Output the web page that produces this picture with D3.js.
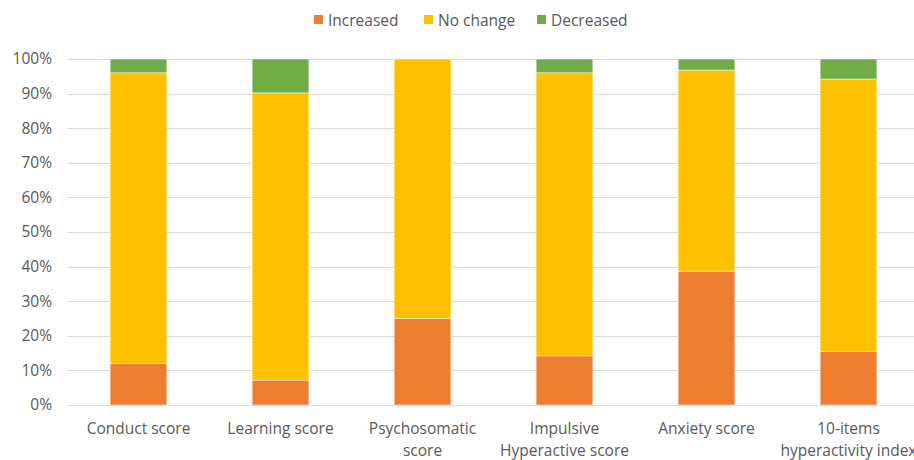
<!DOCTYPE html>
<html><head><meta charset="utf-8">
<script src="https://cdn.jsdelivr.net/npm/d3@7"></script>
<style>html,body{margin:0;padding:0;background:#fff;overflow:hidden}</style>
</head><body>
<svg id="c" width="914" height="460"></svg>
<script>
const categories = ["Conduct score", "Learning score", "Psychosomatic score", "Impulsive Hyperactive score", "Anxiety score", "10-items hyperactivity index"];
const categoryLines = [["Conduct score"], ["Learning score"], ["Psychosomatic", "score"], ["Impulsive", "Hyperactive score"], ["Anxiety score"], ["10-items", "hyperactivity index"]];
const seriesNames = ["Increased", "No change", "Decreased"];
const increased = [12, 7.2, 25, 14.2, 38.7, 15.4];
const noChange = [84, 83, 75, 81.8, 58.1, 78.8];
const decreased = [4, 9.8, 0, 4, 3.2, 5.8];
const colors = ["#ED7D31", "#FFC000", "#70AD47"];
const yTicks = [0, 10, 20, 30, 40, 50, 60, 70, 80, 90, 100];

const svg = d3.select("#c");
const font = "'Open Sans', sans-serif";
const fs = 15.5;
const x = d3.scaleBand().domain(categories).range([67.5, 919.5]).paddingInner(0.6).paddingOuter(0.3);
const y = d3.scaleLinear().domain([0, 100]).range([405, 59]);

// grid
svg.append("g").selectAll("line").data(yTicks).join("line")
  .attr("x1", 67.5).attr("x2", 914).attr("y1", d => Math.round(y(d)) + 0.5).attr("y2", d => Math.round(y(d)) + 0.5)
  .attr("stroke", "#d9d9d9").attr("stroke-width", 1);

// y axis labels
const yAxis = d3.axisLeft(y).tickValues(yTicks).tickFormat(d => d + "%").tickSize(0).tickPadding(0);
const ya = svg.append("g").attr("transform", "translate(52,0)").call(yAxis);
ya.select(".domain").remove();
ya.selectAll("text").attr("font-family", font).attr("font-size", fs).attr("fill", "#595959");

// stacked bars
const rows = categories.map((c, i) => ({cat: c, Increased: increased[i], "No change": noChange[i], Decreased: decreased[i]}));
const stack = d3.stack().keys(seriesNames)(rows);
svg.append("g").selectAll("g").data(stack).join("g").attr("fill", (d, i) => colors[i])
  .selectAll("rect").data(d => d).join("rect")
  .attr("x", d => x(d.data.cat)).attr("width", x.bandwidth())
  .attr("y", d => y(d[1])).attr("height", d => y(d[0]) - y(d[1]))
  .attr("stroke", "#fff").attr("stroke-width", 0.5);

// x labels
const xa = svg.append("g");
categories.forEach((c, i) => {
  const t = xa.append("text").attr("font-family", font).attr("font-size", fs).attr("fill", "#595959")
    .attr("text-anchor", "middle");
  categoryLines[i].forEach((l, k) => t.append("tspan").attr("x", x(c) + x.bandwidth() / 2).attr("y", 434 + k * 22).text(l));
});

// legend
const lg = svg.append("g");
const lx = [314, 424, 537];
seriesNames.forEach((s, i) => {
  lg.append("rect").attr("x", lx[i]).attr("y", 15).attr("width", 9).attr("height", 9).attr("fill", colors[i]);
  lg.append("text").attr("x", lx[i] + 14).attr("y", 25.5).attr("font-family", font).attr("font-size", fs)
    .attr("fill", "#595959").text(s);
});
</script>
</body></html>
